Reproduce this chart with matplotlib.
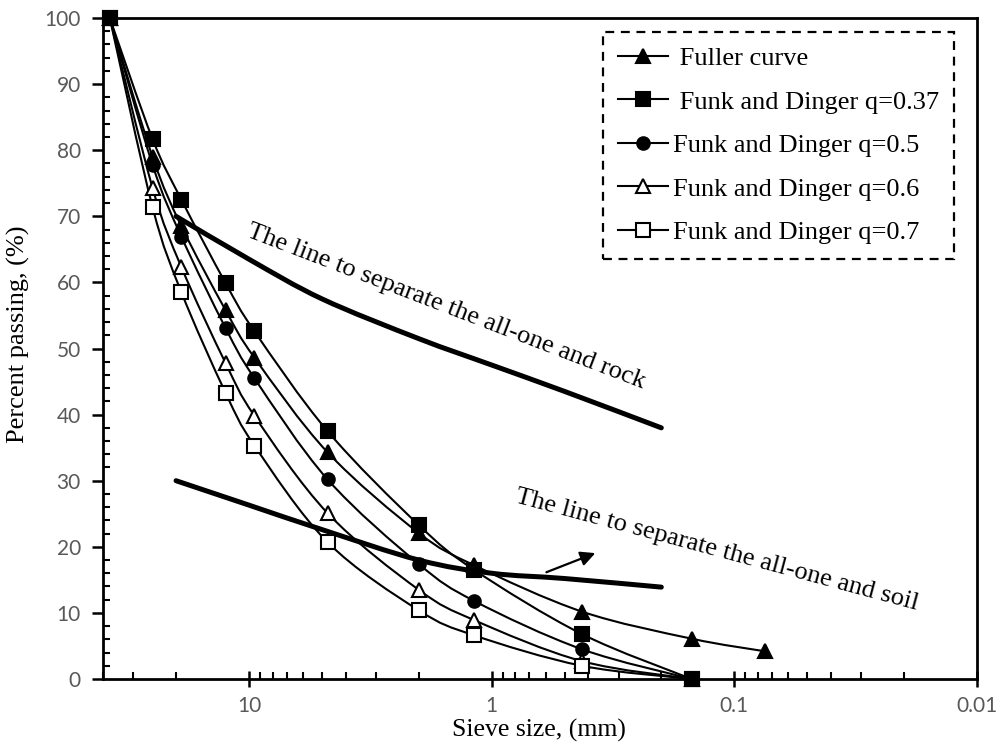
import numpy as np
import matplotlib
matplotlib.use("Agg")
import matplotlib.pyplot as plt
from matplotlib.path import Path
from matplotlib.patches import PathPatch
from matplotlib.lines import Line2D
from matplotlib.ticker import FixedLocator, FixedFormatter, LogLocator, NullFormatter, MultipleLocator

# sieve sizes (mm) and percent passing
sieve = [37.5, 25, 19, 12.5, 9.5, 4.75, 2.0, 1.18, 0.425, 0.15, 0.075]
fuller = [100, 79.0, 68.5, 55.8, 48.6, 34.3, 22.1, 17.2, 10.2, 6.1, 4.2]
fd_037 = [100, 81.7, 72.5, 59.9, 52.6, 37.5, 23.3, 16.5, 6.8, 0]
fd_050 = [100, 77.8, 66.9, 53.1, 45.5, 30.2, 17.4, 11.8, 4.5, 0]
fd_060 = [100, 74.3, 62.3, 47.8, 39.8, 25.1, 13.5, 8.9, 2.7, 0]
fd_070 = [100, 71.4, 58.5, 43.3, 35.3, 20.7, 10.4, 6.6, 2.0, 0]

# separation lines
rock_x = [20, 10, 5, 2, 1, 0.5, 0.2]
rock_y = [70, 63.5, 57.5, 51.5, 47.5, 43.5, 38]
soil_x = [20, 10, 5, 2, 1, 0.5, 0.2]
soil_y = [30, 26.3, 22.6, 18.0, 16.0, 15.2, 13.9]

labels = [" Fuller curve", " Funk and Dinger q=0.37", "Funk and Dinger q=0.5",
          "Funk and Dinger q=0.6", "Funk and Dinger q=0.7"]

serif = "Liberation Serif"
tick_font = "Lato"
grey = "#595959"


def smooth_path(xs, ys):
    # Catmull-Rom style bezier in (log10 x, y) space, like Excel smoothed lines
    pts = np.column_stack([np.log10(xs), np.asarray(ys, float)])
    n = len(pts)
    verts = [pts[0]]
    codes = [Path.MOVETO]
    for i in range(n - 1):
        p0 = pts[i - 1] if i > 0 else pts[i]
        p1 = pts[i]
        p2 = pts[i + 1]
        p3 = pts[i + 2] if i + 2 < n else pts[i + 1]
        verts += [p1 + (p2 - p0) / 6, p2 - (p3 - p1) / 6, p2]
        codes += [Path.CURVE4] * 3
    v = np.array(verts)
    v[:, 0] = 10 ** v[:, 0]
    return Path(v, codes)


fig = plt.figure(figsize=(10, 7.42), dpi=100)
ax = fig.add_axes([0.103, 0.0849, 0.874, 0.8908])
ax.set_xscale("log")
ax.set_xlim(40, 0.01)
ax.set_ylim(0, 100)

series = [
    (fuller, "^", "k", 4),
    (fd_037, "s", "k", 4.6),
    (fd_050, "o", "k", 4.2),
    (fd_060, "^", "white", 4.3),
    (fd_070, "s", "white", 4.4),
]

handles = []
for (vals, mk, fc, z), lab in zip(series, labels):
    xs = sieve[:len(vals)]
    ax.add_patch(PathPatch(smooth_path(xs, vals), fill=False, ec="k", lw=1.5, zorder=3))
    ms = 9 if mk == "o" else 10
    ax.plot(xs, vals, ls="none", marker=mk, ms=ms, mfc=fc, mec="k", mew=1.5,
            zorder=z, clip_on=False)
    handles.append(Line2D([], [], color="k", lw=1.5, marker=mk, ms=ms, mfc=fc,
                          mec="k", mew=1.5))

ax.add_patch(PathPatch(smooth_path(rock_x, rock_y), fill=False, ec="k", lw=3.6,
                       capstyle="round", zorder=5))
ax.add_patch(PathPatch(smooth_path(soil_x, soil_y), fill=False, ec="k", lw=3.6,
                       capstyle="round", zorder=5))

ax.text(10.3, 67.0, "The line to separate the all-one and rock", family=serif,
        fontsize=19, rotation=-21, rotation_mode="anchor", ha="left", va="baseline")
ax.text(0.81, 26.8, "The line to separate the all-one and soil", family=serif,
        fontsize=19, rotation=-15, rotation_mode="anchor", ha="left", va="baseline")
ax.annotate("", xy=(0.365, 19.2), xytext=(0.61, 16.0),
            arrowprops=dict(arrowstyle="-|>", color="k", lw=1.6, mutation_scale=22),
            zorder=6)

# axes styling
for sp in ax.spines.values():
    sp.set_linewidth(2)
ax.xaxis.set_major_locator(FixedLocator([10, 1, 0.1, 0.01]))
ax.xaxis.set_major_formatter(FixedFormatter(["10", "1", "0.1", "0.01"]))
ax.xaxis.set_minor_locator(LogLocator(base=10, subs=np.arange(2, 10), numticks=20))
ax.xaxis.set_minor_formatter(NullFormatter())
ax.yaxis.set_major_locator(MultipleLocator(10))
ax.yaxis.set_minor_locator(MultipleLocator(2))

ax.tick_params(axis="x", which="major", direction="inout", length=12, width=1.8,
               pad=6, labelsize=15, labelcolor=grey)
ax.tick_params(axis="x", which="minor", direction="in", length=5, width=1.5)
ax.tick_params(axis="y", which="major", direction="out", length=8, width=1.8,
               pad=8, labelsize=15, labelcolor=grey)
ax.tick_params(axis="y", which="minor", direction="in", length=5, width=1.5)
for t in ax.get_xticklabels() + ax.get_yticklabels():
    t.set_family(tick_font)

fig.text(0.539, 0.0, "Sieve size, (mm)", family=serif, fontsize=18.5,
         ha="center", va="bottom")
fig.text(0.018, 0.55, "Percent passing, (%)", family=serif, fontsize=19,
         rotation=90, ha="center", va="center")

leg = ax.legend(handles, labels, loc="upper left", bbox_to_anchor=(0.603, 1 - 32 / 742),
                bbox_transform=fig.transFigure, prop={"family": serif, "size": 19},
                frameon=True, fancybox=False, edgecolor="k", framealpha=1,
                borderpad=0.55, labelspacing=0.76, handlelength=1.9, handletextpad=0.2,
                borderaxespad=0)
leg.get_frame().set_linestyle((0, (4, 3)))
leg.get_frame().set_linewidth(1.6)
leg.set_zorder(10)

fig.savefig("out.png", dpi=100)
